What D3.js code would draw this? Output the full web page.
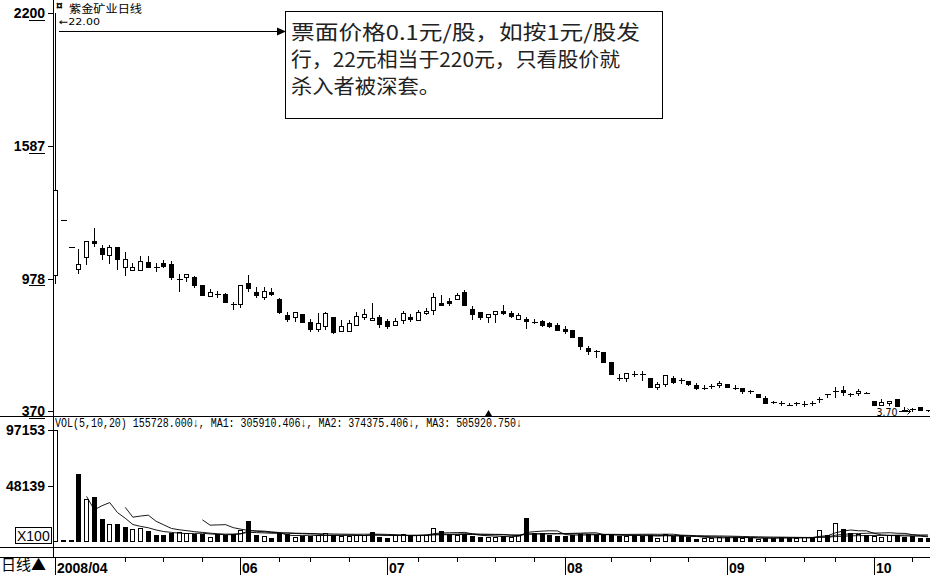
<!DOCTYPE html>
<html><head><meta charset="utf-8">
<script src="https://cdn.jsdelivr.net/npm/d3@7/dist/d3.min.js"></script>
<style>
html,body{margin:0;padding:0;background:#fff;}
svg{display:block;}
</style></head>
<body>
<script>
// ---------- DATA ----------
const openP = [9.95,12.48,11.24,10.24,10.77,11.52,11.21,10.87,11.24,10.31,
10.17,10.17,10.57,10.35,10.52,10.45,9.78,9.85,9.88,9.48,
8.99,9.11,9.08,8.62,8.61,9.59,9.17,8.96,9.16,8.84,
8.13,8.01,8.16,7.79,7.49,7.58,8.01,7.39,7.39,7.64,
8.02,7.88,8.04,7.85,7.67,7.85,8.04,7.88,8.22,8.33,
8.68,8.75,8.88,9.16,8.38,8.27,8.04,8.15,8.29,8.21,
7.94,7.93,7.83,7.84,7.76,7.67,7.49,7.43,7.09,6.60,
6.51,6.40,5.94,5.26,5.22,5.43,5.40,5.23,4.79,4.93,
5.22,5.14,5.07,4.91,4.80,4.86,4.88,4.93,4.80,4.75,
4.62,4.48,4.30,4.11,4.07,4.05,4.05,4.05,4.07,4.23,
4.48,4.63,4.67,4.52,4.52,4.56,4.17,3.99,4.08,4.27,
3.81,3.73,3.87,3.74];
const closeP = [13.86,12.48,11.24,10.45,11.50,11.41,10.95,11.24,10.68,10.68,
10.31,10.60,10.34,10.31,10.40,9.83,9.77,9.99,9.53,9.02,
9.16,9.10,8.70,8.61,9.48,9.37,9.03,9.22,9.09,8.22,
7.96,8.24,7.77,7.49,7.76,8.19,7.30,7.61,7.76,8.07,
8.16,7.96,7.73,7.61,7.85,8.19,7.94,8.25,8.30,8.93,
8.58,8.68,9.05,8.58,8.16,8.04,8.16,8.30,8.22,8.08,
8.13,7.83,7.78,7.67,7.62,7.46,7.41,7.12,6.66,6.46,
6.45,5.95,5.39,5.24,5.45,5.39,5.39,4.82,4.94,5.34,
5.03,5.11,4.94,4.79,4.78,4.84,4.99,4.80,4.78,4.61,
4.60,4.33,4.08,4.10,4.05,3.99,4.05,4.04,4.05,4.24,
4.47,4.64,4.58,4.50,4.61,4.52,3.99,4.13,4.17,3.96,
3.75,3.79,3.75,3.73];
const highP = [22.00,12.48,11.24,11.14,11.50,12.10,11.33,11.33,11.24,11.03,
10.52,10.83,10.83,10.49,10.64,10.60,10.00,9.99,9.92,9.48,
9.31,9.22,9.11,8.70,9.48,9.95,9.42,9.42,9.34,8.91,
8.23,8.24,8.16,7.92,8.19,8.27,8.01,7.88,7.88,8.25,
8.40,8.68,8.11,7.94,7.96,8.31,8.15,8.35,8.42,9.13,
9.03,8.91,9.14,9.26,8.53,8.27,8.16,8.30,8.58,8.30,
8.22,8.01,7.92,7.88,7.79,7.73,7.61,7.43,7.09,6.70,
6.51,6.40,5.94,5.40,5.45,5.53,5.55,5.23,5.03,5.34,
5.31,5.22,5.07,5.00,4.88,4.94,5.07,4.93,4.88,4.75,
4.67,4.48,4.39,4.17,4.16,4.05,4.11,4.17,4.16,4.36,
4.48,4.82,4.85,4.52,4.73,4.56,4.17,4.24,4.17,4.27,
3.90,3.82,3.90,3.74];
const lowP = [9.59,12.48,11.24,10.06,10.45,11.30,10.70,10.52,10.24,9.97,
10.17,10.17,10.31,10.15,10.31,9.77,9.23,9.68,9.39,9.02,
8.99,8.93,8.70,8.38,8.50,9.24,8.93,8.86,9.03,8.22,
7.86,7.85,7.77,7.38,7.38,7.46,7.30,7.39,7.39,7.64,
7.92,7.88,7.58,7.50,7.67,7.76,7.84,7.88,8.15,8.16,
8.58,8.56,8.88,8.58,7.92,7.94,7.81,7.81,8.15,8.01,
7.94,7.50,7.73,7.61,7.55,7.46,7.30,7.12,6.54,6.32,
6.20,5.95,5.39,5.11,5.07,5.31,5.13,4.82,4.70,4.85,
4.97,5.00,4.88,4.73,4.70,4.76,4.82,4.80,4.71,4.52,
4.52,4.33,4.08,4.05,3.96,3.99,3.98,3.95,3.98,4.13,
4.36,4.36,4.44,4.39,4.44,4.52,3.99,3.99,3.99,3.96,
3.72,3.70,3.75,3.71];
const volume = [97153,1300,1300,58600,36800,38500,19300,14900,14900,12300,
10500,11400,8800,5300,5300,7000,7900,7000,6100,6100,
3800,6100,5500,6100,9600,17800,5300,4400,2900,6700,
6100,3800,4400,4400,5000,6700,5000,4400,4400,5000,
5000,7900,3800,2900,5000,6100,5000,5000,5000,11100,
9000,6100,5500,6100,4400,3200,3800,3800,4400,3800,
5000,20400,7300,6700,5300,4400,4400,5500,6100,6100,
5500,5000,5500,4400,4400,5000,4400,5000,2600,6100,
4400,4400,3200,2000,2600,2600,3200,3200,3200,2600,
2600,2000,2600,2600,3800,2600,2600,3200,2600,9600,
5000,15500,10800,7300,6100,5000,4400,3800,5000,5000,
3800,4400,2600,2600];
// volume bars drawn filled (down day)
const volFilled = [0,0,0,1,0,1,1,0,1,1,
0,0,1,1,1,1,0,0,1,1,
0,1,1,1,0,1,1,0,1,1,
1,0,1,1,0,0,1,0,0,0,
0,1,1,1,0,0,1,0,0,0,
1,1,0,1,1,1,0,0,1,0,
0,1,1,1,1,1,1,1,1,1,
1,1,1,1,0,1,1,1,0,0,
1,1,1,1,0,0,0,1,1,0,
1,0,1,1,1,1,0,0,1,0,
1,0,1,1,0,1,0,0,0,1,
1,1,1,1];
const priceTicks = [22.00, 15.87, 9.78, 3.70];
const priceTickLabels = ["2200", "1587", "978", "370"];
const volTicks = [97153, 48139];
const monthStart = [0, 24, 43, 66, 87, 106];
const monthLabels = ["2008/04", "06", "07", "08", "09", "10"];
const weekTicks = [9,14,19,29,33,38,47,52,57,62,72,77,82,92,97,101,111];
const maPeriods = [5, 10, 20];
const titleText = "紫金矿业日线";
const volHeader = "VOL(5,10,20) 155728.000↓, MA1: 305910.406↓, MA2: 374375.406↓, MA3: 505920.750↓";
const noteLines = ["票面价格0.1元/股，如按1元/股发", "行，22元相当于220元，只看股价就", "杀入者被深套。"];

// ---------- SETUP ----------
const W = 930, H = 575;
const svg = d3.select("body").append("svg").attr("width", W).attr("height", H)
  .style("font-family", "'Liberation Sans', Arial, sans-serif");

const n = openP.length;
const step = 7.72;
const x = d3.scaleBand().domain(d3.range(n))
  .range([55.7 - step/2, 55.7 - step/2 + step*n])
  .paddingInner(0.35).paddingOuter(0.175);
const cx = i => Math.round(x(i) + x.bandwidth()/2 - 0.5) + 0.5;
const y = d3.scaleLinear().domain([3.70, 22.00]).range([411, 13]);
const yv = d3.scaleLinear().domain([0, 97153]).range([541, 430]);

const data = d3.range(n).map(i => ({i, o: openP[i], c: closeP[i], h: highP[i], l: lowP[i], v: volume[i], vf: volFilled[i]}));

svg.append("defs").append("clipPath").attr("id","clipP")
  .append("rect").attr("x",53).attr("y",0).attr("width",W-53).attr("height",H);

// ---------- FRAME LINES ----------
const frame = svg.append("g").attr("stroke","#000").attr("shape-rendering","crispEdges");
frame.append("line").attr("x1",53.5).attr("x2",53.5).attr("y1",0).attr("y2",558);
frame.append("line").attr("x1",0).attr("x2",W).attr("y1",416.5).attr("y2",416.5);
frame.append("line").attr("x1",0).attr("x2",W).attr("y1",547.5).attr("y2",547.5);
frame.append("line").attr("x1",0).attr("x2",W).attr("y1",557.5).attr("y2",557.5);

// ---------- PRICE AXIS ----------
const pAxis = d3.axisLeft(y).tickValues(priceTicks)
  .tickFormat((d,i) => priceTickLabels[i]).tickSize(5).tickPadding(3);
const pg = svg.append("g").attr("transform","translate(53,0)").call(pAxis);
pg.select(".domain").remove();
pg.selectAll("line").attr("stroke","#000").attr("shape-rendering","crispEdges");
pg.selectAll("text").attr("font-size",14).attr("font-weight","bold").attr("fill","#000")
  .attr("font-family","'Liberation Sans', Arial, sans-serif");
pg.selectAll(".tick").each(function(d,i){
  const node = d3.select(this).select("text").node();
  const lab = priceTickLabels[i];
  const sub = node.getSubStringLength(lab.length-2, 2);
  const xEnd = -8;
  d3.select(this).append("line")
    .attr("x1", xEnd - sub).attr("x2", xEnd)
    .attr("y1", 6.5).attr("y2", 6.5)
    .attr("stroke","#000").attr("shape-rendering","crispEdges");
});

// ---------- VOLUME AXIS ----------
const vAxis = d3.axisLeft(yv).tickValues(volTicks).tickFormat(d3.format("d")).tickSize(5).tickPadding(3);
const vg = svg.append("g").attr("transform","translate(53,0)").call(vAxis);
vg.select(".domain").remove();
vg.selectAll("line").attr("stroke","#000").attr("shape-rendering","crispEdges");
vg.selectAll("text").attr("font-size",14).attr("font-weight","bold").attr("fill","#000")
  .attr("font-family","'Liberation Sans', Arial, sans-serif");

svg.append("rect").attr("x",15.5).attr("y",527.5).attr("width",36).attr("height",16)
  .attr("fill","#fff").attr("stroke","#000").attr("shape-rendering","crispEdges");
svg.append("text").attr("x",17).attr("y",541).attr("font-size",14).text("X100");

// ---------- CANDLES ----------
const plot = svg.append("g").attr("clip-path","url(#clipP)");
const cg = plot.append("g").attr("shape-rendering","crispEdges");
const candle = cg.selectAll("g.c").data(data).join("g").attr("class","c");
candle.append("line")
  .attr("x1", d => cx(d.i)).attr("x2", d => cx(d.i))
  .attr("y1", d => Math.round(y(d.h))).attr("y2", d => Math.round(y(d.l)) + 1)
  .attr("stroke","#000");
candle.each(function(d){
  const g = d3.select(this);
  const top = y(Math.max(d.o, d.c)), bot = y(Math.min(d.o, d.c));
  const left = cx(d.i) - 2.5;
  if (bot - top < 1.5) {
    g.append("line").attr("x1", left - 0.5).attr("x2", left + 5.5)
      .attr("y1", Math.round(y(d.c)) + 0.5).attr("y2", Math.round(y(d.c)) + 0.5)
      .attr("stroke","#000");
  } else {
    g.append("rect").attr("x", left).attr("y", Math.round(top) + 0.5)
      .attr("width", 4).attr("height", Math.max(1, Math.round(bot - top)))
      .attr("fill", d.c >= d.o ? "#fff" : "#000").attr("stroke","#000");
  }
});

// ---------- VOLUME BARS ----------
const vb = plot.append("g").attr("shape-rendering","crispEdges");
vb.selectAll("rect").data(data).join("rect")
  .attr("x", d => cx(d.i) - 2.5)
  .attr("y", d => Math.round(yv(d.v)) + 0.5)
  .attr("width", 4)
  .attr("height", d => Math.max(0.5, 541 - Math.round(yv(d.v))))
  .attr("fill", d => d.vf ? "#000" : "#fff")
  .attr("stroke","#000");

maPeriods.forEach(p => {
  const pts = [];
  for (let i = p - 1; i < n; i++) {
    const m = d3.mean(volume.slice(i - p + 1, i + 1));
    pts.push([x(i) + x.bandwidth()/2, yv(m)]);
  }
  plot.append("path").attr("d", d3.line()(pts)).attr("fill","none")
    .attr("stroke","#000").attr("stroke-width",0.9);
});

svg.append("text").attr("x",55).attr("y",427)
  .attr("font-family","'Liberation Mono','DejaVu Sans Mono',monospace").attr("font-size",12)
  .attr("textLength",467).attr("lengthAdjust","spacingAndGlyphs").text(volHeader);

// ---------- DATE AXIS ----------
const da = svg.append("g").attr("shape-rendering","crispEdges");
weekTicks.forEach(i => {
  da.append("line").attr("x1",cx(i)).attr("x2",cx(i)).attr("y1",558).attr("y2",562).attr("stroke","#000");
});
monthStart.forEach((i,k) => {
  da.append("line").attr("x1",cx(i)).attr("x2",cx(i)).attr("y1",558).attr("y2",575).attr("stroke","#000");
  svg.append("text").attr("x",cx(i)+1.5).attr("y",573).attr("font-size",14).attr("font-weight","bold")
    .text(monthLabels[k]);
});
svg.append("text").attr("x",1).attr("y",570).attr("font-size",15)
  .attr("font-family","'Noto Sans CJK SC',sans-serif").text("日线▲");

// ---------- TITLE & LABELS ----------
svg.append("text").attr("x",56).attr("y",10).attr("font-size",12).attr("font-weight","bold").text("¤");
svg.append("text").attr("x",69).attr("y",13).attr("font-size",11)
  .attr("font-family","'Noto Sans CJK SC',sans-serif")
  .attr("textLength",73).attr("lengthAdjust","spacingAndGlyphs").text(titleText);

const maxI = d3.maxIndex(highP), minI = d3.minIndex(lowP);
svg.append("text").attr("x",59).attr("y",25).attr("font-size",9.5)
  .attr("font-family","'DejaVu Sans',sans-serif").attr("textLength",41).attr("lengthAdjust","spacingAndGlyphs")
  .text("←" + highP[maxI].toFixed(2));
const lx = cx(minI);
svg.append("text").attr("x", lx - 36).attr("y", 415.5).attr("font-size",11)
  .attr("font-family","'DejaVu Sans',sans-serif").attr("textLength",21).attr("lengthAdjust","spacingAndGlyphs")
  .text(lowP[minI].toFixed(2));
svg.append("line").attr("x1",lx-14).attr("x2",lx-2).attr("y1",411.5).attr("y2",411.5).attr("stroke","#000").attr("shape-rendering","crispEdges");
svg.append("path").attr("d",`M${lx-5},408.5 L${lx-2},411.5 L${lx-5},414.5`).attr("fill","none").attr("stroke","#000");

svg.append("path").attr("d","M485,416 L488.5,410 L492,416 Z").attr("fill","#000");

// ---------- ANNOTATION ----------
svg.append("line").attr("x1",59).attr("x2",280).attr("y1",31.5).attr("y2",31.5)
  .attr("stroke","#000").attr("shape-rendering","crispEdges");
svg.append("path").attr("d","M277,27.5 L286,31.5 L277,35.5 Z").attr("fill","#000");
svg.append("rect").attr("x",285.5).attr("y",11.5).attr("width",377).attr("height",107)
  .attr("fill","#fff").attr("stroke","#000").attr("shape-rendering","crispEdges");
const noteLen = [349, 329, 149];
noteLines.forEach((t,k) => {
  svg.append("text").attr("x",291).attr("y",40 + k*27).attr("font-size",20)
    .attr("fill","#222").attr("font-family","'Noto Sans CJK SC',sans-serif")
    .attr("textLength",noteLen[k]).attr("lengthAdjust","spacingAndGlyphs").text(t);
});
</script>
</body></html>
